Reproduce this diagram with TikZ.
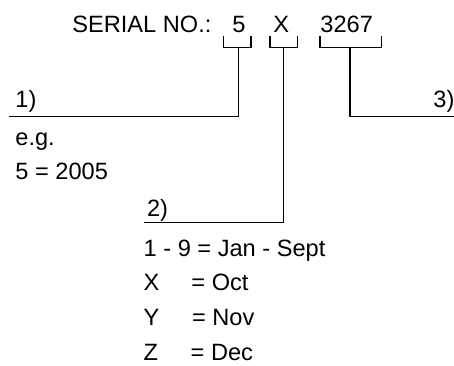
\documentclass[tikz,border=0pt]{standalone}
\usepackage{fontspec}
\setmainfont{Liberation Sans}

\begin{document}
\begin{tikzpicture}[x=0.5pt, y=-0.5pt, every node/.style={font=\fontsize{11.8}{14}\selectfont, inner sep=0pt, anchor=base west}, lead/.style={line width=0.7pt}]
	\useasboundingbox (0,0) rectangle (454,365);
	\node (serial) at (72,32) {SERIAL NO.:};
	\node (yr) at (232,32) {5};
	\node (mo) at (273,32) {X};
	\node (num) at (320,32) {3267};
	% brackets under the three parts
	\draw[lead] (223.3,36) |- (251,47.7) -- (251,36);
	\draw[lead] (270,36) |- (297.3,47.7) -- (297.3,36);
	\draw[lead] (320,36) |- (381.7,47.7) -- (381.7,36);
	\coordinate (yrtop) at (238.3,47.7);
	\coordinate (motop) at (283.7,47.7);
	\coordinate (numtop) at (350,47.7);
	\coordinate (yrend) at (9,116.7);
	\coordinate (moend) at (144,222.7);
	\coordinate (numend) at (454,116.7);
	\draw[lead] (yrtop) |- (yrend);
	\draw[lead] (motop) |- (moend);
	\draw[lead] (numtop) |- (numend);
	% notes
	\node (lab1) at (15,107) {1)};
	\node (eg) at (15,145) {e.g.};
	\node (year) at (15,179) {5 = 2005};
	\node (lab2) at (146.7,216) {2)};
	\node (m1) at (143.3,256) {1 - 9 = Jan - Sept};
	\node (m2) at (143.3,290) {\makebox[23.9pt][l]{X}= Oct};
	\node (m3) at (143.3,325) {\makebox[24.2pt][l]{Y}= Nov};
	\node (m4) at (143.3,360) {\makebox[23.5pt][l]{Z}= Dec};
	\node (lab3) at (433,107) {3)};
\end{tikzpicture}
\end{document}
